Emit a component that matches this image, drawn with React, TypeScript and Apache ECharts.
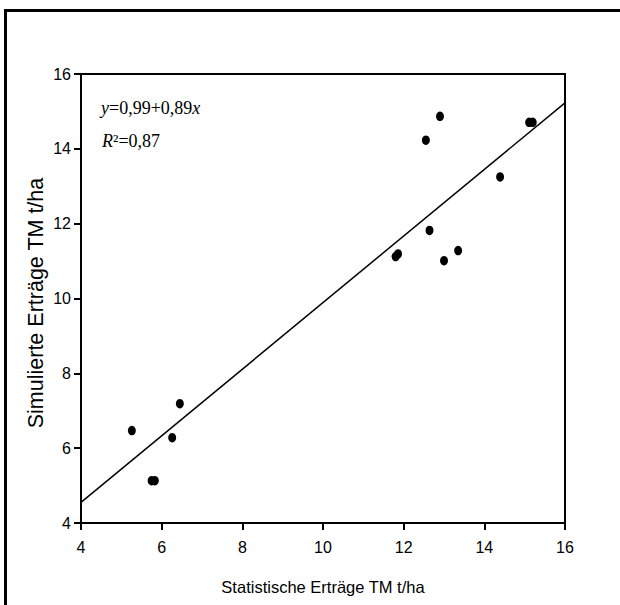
import React, { useEffect, useRef } from "react";
import * as echarts from "echarts";

// Observed points (statistical yield, simulated yield), t/ha
const statYield = [5.26, 5.75, 5.83, 6.26, 6.45, 11.8, 11.86, 12.55, 12.64, 12.9, 13.0, 13.35, 14.39, 15.11, 15.2];
const simYield = [6.47, 5.13, 5.13, 6.28, 7.19, 11.12, 11.19, 14.23, 11.82, 14.87, 11.01, 11.28, 13.25, 14.71, 14.71];

// Fitted line endpoints (y = 0.99 + 0.89x)
const fitX = [4, 16];
const fitY = [4.55, 15.23];

const xTicks = { min: 4, max: 16, interval: 2 };
const yTicks = { min: 4, max: 16, interval: 2 };

const xTitle = "Statistische Erträge TM t/ha";
const yTitle = "Simulierte Erträge TM t/ha";

export default function App() {
  const ref = useRef<HTMLDivElement>(null);
  useEffect(() => {
    if (!ref.current) return;
    document.body.style.margin = "0";
    document.body.style.overflow = "hidden";
    document.documentElement.style.overflow = "hidden";
    const chart = echarts.init(ref.current, null, { renderer: "svg" });
    const sans = "'Liberation Sans', Arial, sans-serif";
    const serif = "'Liberation Serif', 'Times New Roman', serif";
    chart.setOption({
      animation: false,
      backgroundColor: "#fff",
      grid: {
        left: 81,
        right: 55,
        top: 74,
        bottom: 82,
        show: true,
        borderColor: "#000",
        borderWidth: 2,
        containLabel: false,
      },
      xAxis: {
        type: "value",
        min: xTicks.min,
        max: xTicks.max,
        interval: xTicks.interval,
        axisLine: { show: true, onZero: false, lineStyle: { color: "#000", width: 2 } },
        axisTick: { show: true, length: 7, lineStyle: { color: "#000", width: 2 } },
        axisLabel: { color: "#000", fontFamily: sans, fontSize: 16, margin: 16 },
        splitLine: { show: false },
      },
      yAxis: {
        type: "value",
        min: yTicks.min,
        max: yTicks.max,
        interval: yTicks.interval,
        axisLine: { show: true, onZero: false, lineStyle: { color: "#000", width: 2 } },
        axisTick: { show: true, length: 7, lineStyle: { color: "#000", width: 2 } },
        axisLabel: { color: "#000", fontFamily: sans, fontSize: 16, margin: 10 },
        splitLine: { show: false },
      },
      series: [
        {
          type: "line",
          data: fitX.map((x, i) => [x, fitY[i]]),
          symbol: "none",
          lineStyle: { color: "#000", width: 1.5 },
          silent: true,
          z: 2,
        },
        {
          type: "scatter",
          data: statYield.map((x, i) => [x, simYield[i]]),
          symbol: "circle",
          symbolSize: [8, 9.5],
          itemStyle: { color: "#000", opacity: 1 },
          z: 3,
        },
      ],
      graphic: [
        {
          type: "line",
          shape: { x1: 5.5, y1: 10.5, x2: 640, y2: 10.5 },
          style: { stroke: "#000", lineWidth: 3 },
          silent: true,
        },
        {
          type: "line",
          shape: { x1: 5.5, y1: 9, x2: 5.5, y2: 640 },
          style: { stroke: "#000", lineWidth: 3 },
          silent: true,
        },
        {
          type: "text",
          x: 101,
          y: 108,
          style: {
            text: "{i|y}=0,99+0,89{i|x}",
            font: `18px ${serif}`,
            fill: "#000",
            verticalAlign: "middle",
            rich: {
              i: { fontStyle: "italic", fontFamily: serif, fontSize: 18, fill: "#000" },
            },
          },
        },
        {
          type: "text",
          x: 102,
          y: 141,
          style: {
            text: "{i|R}²=0,87",
            font: `18px ${serif}`,
            fill: "#000",
            verticalAlign: "middle",
            rich: {
              i: { fontStyle: "italic", fontFamily: serif, fontSize: 18, fill: "#000" },
            },
          },
        },
        {
          type: "text",
          x: 323,
          y: 587,
          style: {
            text: xTitle,
            font: `16.5px ${sans}`,
            fill: "#000",
            align: "center",
            verticalAlign: "middle",
          },
        },
        {
          type: "text",
          x: 36,
          y: 303,
          rotation: Math.PI / 2,
          style: {
            text: yTitle,
            font: `21.5px ${sans}`,
            fill: "#000",
            align: "center",
            verticalAlign: "middle",
          },
        },
      ],
    });
    return () => chart.dispose();
  }, []);
  return <div ref={ref} style={{ position: "fixed", left: 0, top: 0, width: 620, height: 605 }} />;
}
